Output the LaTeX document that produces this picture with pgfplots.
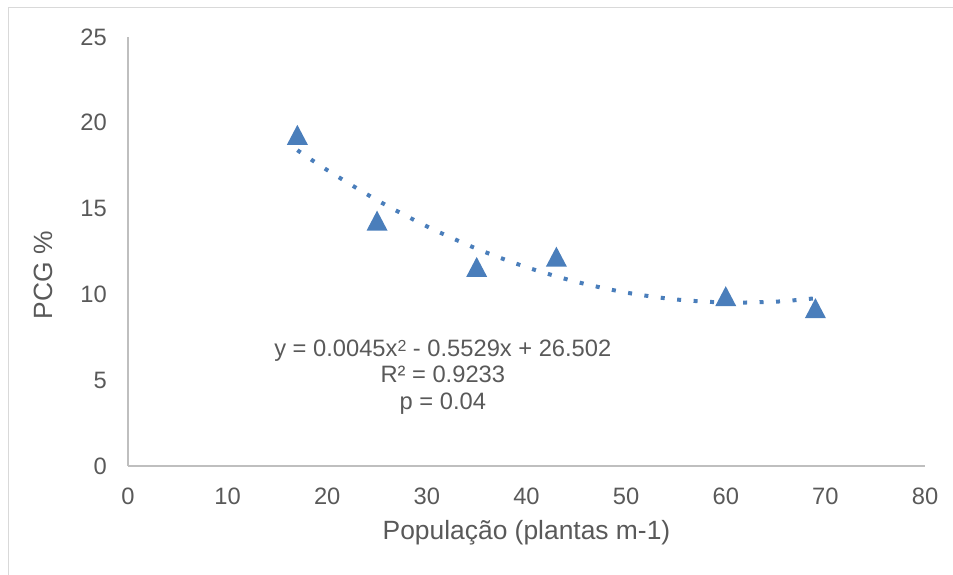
\documentclass[border=0pt]{standalone}
\usepackage{pgfplots}
\pgfplotsset{compat=1.18}
\usepackage{fontspec}
\setmainfont{Liberation Sans}

\definecolor{ser}{HTML}{4A7EBB}
\definecolor{txt}{HTML}{595959}
\definecolor{axl}{HTML}{BFBFBF}
\definecolor{frm}{HTML}{D9D9D9}

% excel style triangle, centred on its point
\pgfdeclareplotmark{xtri}{%
  \pgfpathmoveto{\pgfqpoint{0pt}{10pt}}%
  \pgfpathlineto{\pgfqpoint{10.5pt}{-10pt}}%
  \pgfpathlineto{\pgfqpoint{-10.5pt}{-10pt}}%
  \pgfpathclose\pgfusepathqfill}

\begin{document}
\begin{tikzpicture}
\useasboundingbox (0pt,0pt) rectangle (953pt,574pt);
\clip (0pt,0pt) rectangle (953pt,574pt);
\draw[frm, line width=1.5pt] (8.5pt,-10pt) rectangle (970pt,566.5pt);

\begin{axis}[
  at={(128pt,108pt)}, anchor=south west,
  scale only axis, width=797pt, height=429pt,
  xmin=0, xmax=80, ymin=0, ymax=25,
  xtick={0,10,...,80}, ytick={0,5,...,25},
  axis x line*=bottom, axis y line*=left,
  axis line style={axl, line width=1.5pt},
  major tick length=0pt,
  /pgf/number format/assume math mode=true,
  tick label style={font=\fontsize{23.7}{28}\selectfont, text=txt, inner sep=0pt},
  xticklabel style={anchor=center, yshift=-30pt},
  yticklabel style={anchor=east, xshift=-21pt},
  xlabel={População (plantas m-1)},
  ylabel={PCG \%},
  label style={font=\fontsize{26.4}{30}\selectfont, text=txt, inner sep=0pt},
  xlabel style={at={(axis description cs:0.5,-0.156)}, anchor=center},
  ylabel style={at={(axis description cs:-0.1067,0.445)}, anchor=center},
  clip=false,
]

% polynomial trendline, evaluated at a few x values
\addplot[ser, line width=4pt, line cap=butt, dash pattern=on 4pt off 12.5pt, smooth] coordinates {
(17,18.403)
(20,17.244)
(25,15.492)
(30,13.965)
(35,12.663)
(40,11.586)
(45,10.734)
(50,10.107)
(55,9.705)
(60,9.528)
(65,9.576)
(69,9.776)
};

\addplot[only marks, mark=xtri, color=ser] coordinates {
(17,19.3)
(25,14.3)
(35,11.6)
(43,12.2)
(60,9.9)
(69,9.2)
};

\node[align=center, font=\fontsize{23.7}{26.5}\selectfont, text=txt] at (axis cs:31.6,5.2)
  {y = 0.0045x{\fontsize{16}{16}\selectfont\raisebox{0.55ex}{2}} - 0.5529x + 26.502\\R² = 0.9233\\p = 0.04};

\end{axis}
\end{tikzpicture}
\end{document}
